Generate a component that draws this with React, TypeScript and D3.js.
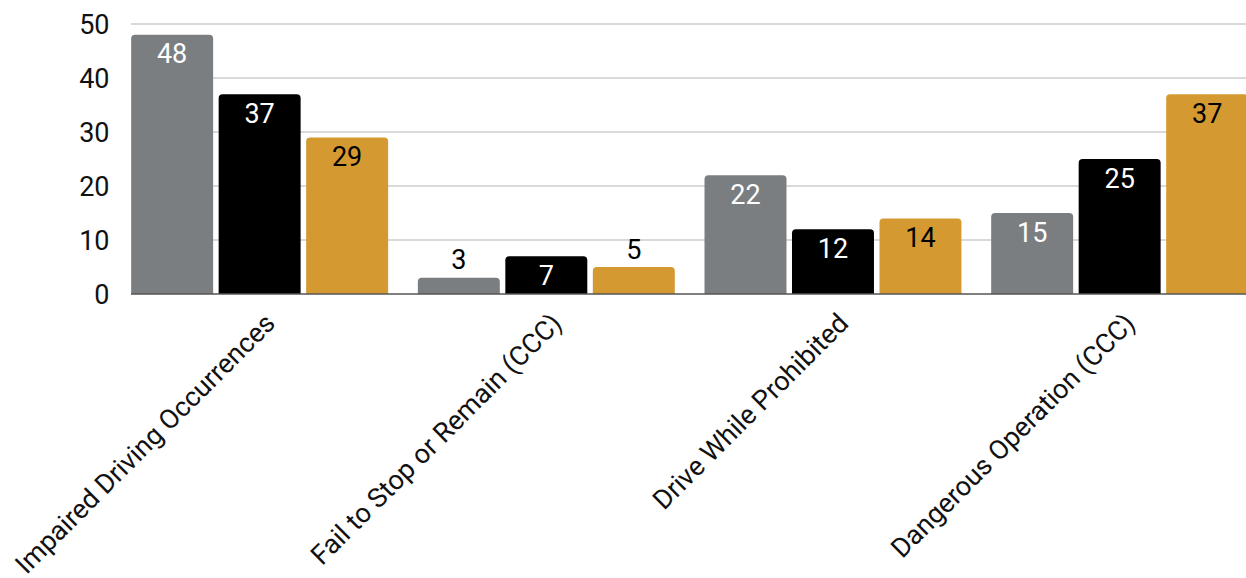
import React from "react";
import * as d3 from "d3";

const categories = [
  "Impaired Driving Occurrences",
  "Fail to Stop or Remain (CCC)",
  "Drive While Prohibited",
  "Dangerous Operation (CCC)",
];
const seriesNames = ["Series 1", "Series 2", "Series 3"];
const series1 = [48, 3, 22, 15];
const series2 = [37, 7, 12, 25];
const series3 = [29, 5, 14, 37];
const yTicks = [0, 10, 20, 30, 40, 50];

const colors = ["#7b7e81", "#000000", "#d49a31"];
const labelColors = ["#ffffff", "#ffffff", "#000000"];

const W = 1246;
const H = 578;
const plotLeft = 131;
const y0 = 294;
const yTop = 24;

function roundedTopBar(x: number, y: number, w: number, h: number, r: number) {
  const rr = Math.min(r, h, w / 2);
  return `M${x},${y + h}V${y + rr}Q${x},${y} ${x + rr},${y}H${x + w - rr}Q${x + w},${y} ${x + w},${y + rr}V${y + h}Z`;
}

export default function App() {
  const allSeries = [series1, series2, series3];
  const y = d3.scaleLinear().domain([0, 50]).range([y0, yTop]);
  const x0 = d3
    .scaleBand<string>()
    .domain(categories)
    .range([116.3, 1263])
    .paddingInner(0.1036)
    .paddingOuter(0.0518);
  const x1 = d3
    .scaleBand<string>()
    .domain(seriesNames)
    .range([0, x0.bandwidth()])
    .paddingInner(0.063)
    .paddingOuter(0);
  const font = "Roboto, 'Noto Sans', sans-serif";
  const fs = 27;

  return (
    <svg
      width={W}
      height={H}
      style={{ position: "absolute", left: 0, top: 0, background: "#fff" }}
      fontFamily={font}
    >
      <rect width={W} height={H} fill="#fff" />
      {yTicks.map((t) =>
        t === 0 ? null : (
          <line
            key={"g" + t}
            x1={plotLeft}
            x2={W}
            y1={y(t)}
            y2={y(t)}
            stroke="#cccccc"
            strokeWidth={1.3}
          />
        )
      )}
      {yTicks.map((t) => (
        <text
          key={"yt" + t}
          x={109.5}
          y={y(t)}
          dy="0.36em"
          textAnchor="end"
          fontSize={fs}
          fill="#111"
        >
          {t}
        </text>
      ))}
      {categories.map((c, ci) => (
        <g key={c} transform={`translate(${x0(c)},0)`}>
          {seriesNames.map((s, si) => {
            const v = allSeries[si][ci];
            const bx = x1(s)!;
            const bw = x1.bandwidth();
            const top = y(v);
            const h = y0 - top;
            const inside = h > 32;
            return (
              <g key={s}>
                <path d={roundedTopBar(bx, top, bw, h, 4)} fill={colors[si]} />
                <text
                  x={bx + bw / 2}
                  y={inside ? top + 28.5 : top - 8.5}
                  textAnchor="middle"
                  fontSize={fs}
                  fill={inside ? labelColors[si] : "#000"}
                >
                  {v}
                </text>
              </g>
            );
          })}
        </g>
      ))}
      <line x1={plotLeft} x2={W} y1={y0} y2={y0} stroke="#555" strokeWidth={1.3} />
      {categories.map((c) => {
        const cx = x0(c)! + x0.bandwidth() / 2 + 17;
        const cy = 325;
        return (
          <text
            key={"xl" + c}
            transform={`translate(${cx},${cy}) rotate(-45)`}
            textAnchor="end"
            fontSize={fs}
            fill="#111"
          >
            {c}
          </text>
        );
      })}
    </svg>
  );
}
